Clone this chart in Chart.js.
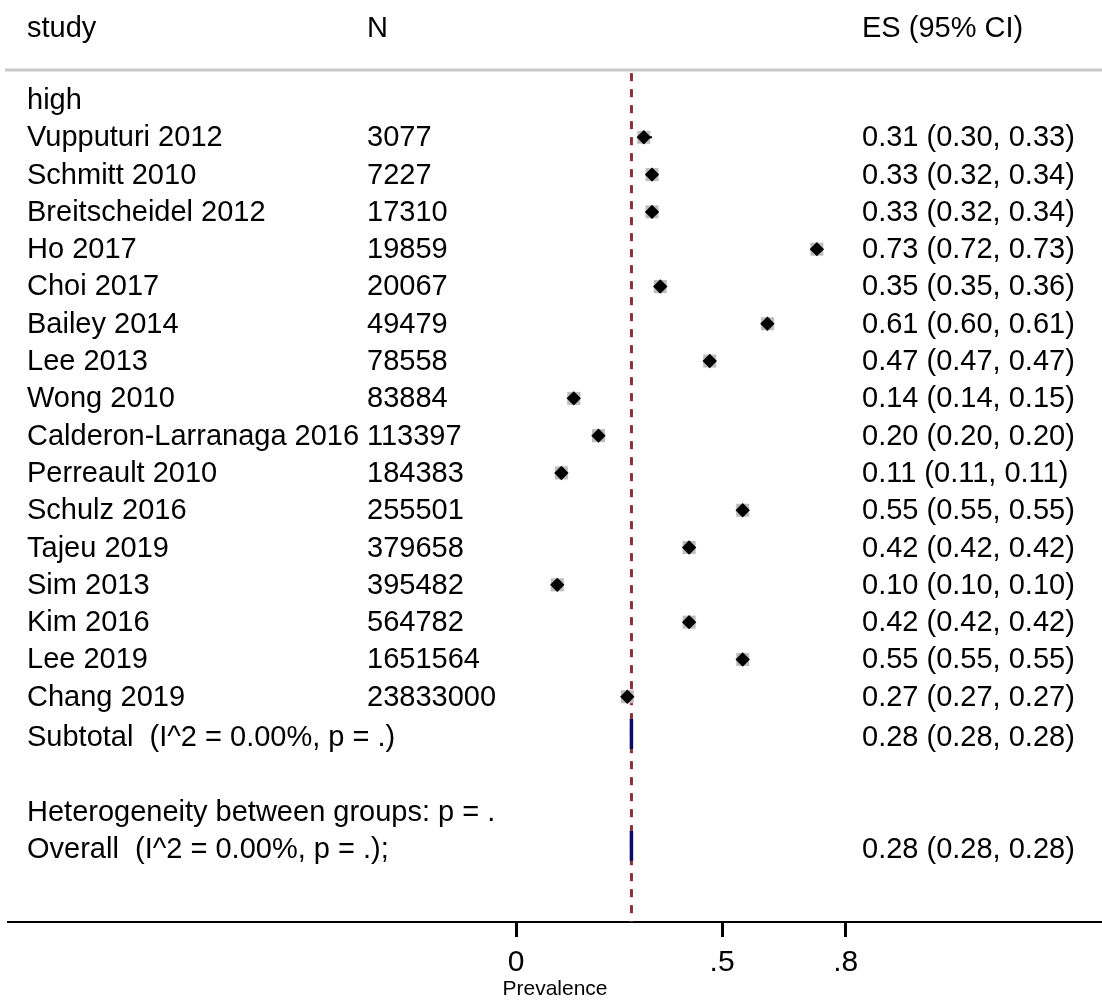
<!DOCTYPE html>
<html lang="en">
<head>
    <meta charset="UTF-8">
    <title>Forest plot - Prevalence</title>
    <style>
        body {
            margin: 0;
            padding: 0;
            background: #fff;
        }
        #chart {
            display: block;
        }
    </style>
</head>
<body>
    <canvas id="chart" width="1102" height="1001"></canvas>

    <script src="https://cdn.jsdelivr.net/npm/chart.js"></script>
    <script>
        // data
        const groupLabel = 'high';
        const studies = ['Vupputuri 2012', 'Schmitt 2010', 'Breitscheidel 2012', 'Ho 2017', 'Choi 2017',
            'Bailey 2014', 'Lee 2013', 'Wong 2010', 'Calderon-Larranaga 2016', 'Perreault 2010',
            'Schulz 2016', 'Tajeu 2019', 'Sim 2013', 'Kim 2016', 'Lee 2019', 'Chang 2019'];
        const sampleN = [3077, 7227, 17310, 19859, 20067, 49479, 78558, 83884, 113397, 184383,
            255501, 379658, 395482, 564782, 1651564, 23833000];
        const es = [0.31, 0.33, 0.33, 0.73, 0.35, 0.61, 0.47, 0.14, 0.20, 0.11, 0.55, 0.42, 0.10, 0.42, 0.55, 0.27];
        const ciLow = [0.30, 0.32, 0.32, 0.72, 0.35, 0.60, 0.47, 0.14, 0.20, 0.11, 0.55, 0.42, 0.10, 0.42, 0.55, 0.27];
        const ciHigh = [0.33, 0.34, 0.34, 0.73, 0.36, 0.61, 0.47, 0.15, 0.20, 0.11, 0.55, 0.42, 0.10, 0.42, 0.55, 0.27];

        const subtotal = { label: 'Subtotal  (I^2 = 0.00%, p = .)', es: 0.28, lo: 0.28, hi: 0.28 };
        const overall = { label: 'Overall  (I^2 = 0.00%, p = .);', es: 0.28, lo: 0.28, hi: 0.28 };
        const heteroLabel = 'Heterogeneity between groups: p = .';

        const xTickValues = [0, 0.5, 0.8];
        const xTickLabels = ['0', '.5', '.8'];
        const headers = ['study', 'N', 'ES (95% CI)'];

        // row layout (row index on the y scale)
        const HEADER_ROW = -1.92;
        const GROUP_ROW = 0;
        const SUB_ROW = 17;
        const HET_ROW = 19;
        const OVR_ROW = 20;

        const FONT = '"Liberation Sans", Arial, sans-serif';
        const COL_STUDY = 27, COL_N = 367, COL_ES = 862;

        const fmt = v => v.toFixed(2);
        const esText = (e, l, h) => `${fmt(e)} (${fmt(l)}, ${fmt(h)})`;

        const points = es.map((v, i) => ({ x: v, y: i + 1 }));

        const forestPlugin = {
            id: 'forest',
            beforeDatasetsDraw(chart) {
                const { ctx, chartArea } = chart;
                ctx.save();
                ctx.strokeStyle = '#c8c8c8';
                ctx.lineWidth = 3;
                ctx.beginPath();
                ctx.moveTo(5, chartArea.top);
                ctx.lineTo(chartArea.right, chartArea.top);
                ctx.stroke();
                ctx.restore();
            },
            afterDatasetsDraw(chart) {
                const { ctx } = chart;
                const xs = chart.scales.x;
                const ys = chart.scales.y;
                ctx.save();

                // confidence intervals
                ctx.strokeStyle = '#000';
                ctx.lineWidth = 2;
                es.forEach((v, i) => {
                    const y = ys.getPixelForValue(i + 1);
                    ctx.beginPath();
                    ctx.moveTo(xs.getPixelForValue(ciLow[i]), y);
                    ctx.lineTo(xs.getPixelForValue(ciHigh[i]), y);
                    ctx.stroke();
                });

                // pooled diamonds
                [[subtotal, SUB_ROW], [overall, OVR_ROW]].forEach(([p, row]) => {
                    ctx.beginPath();
                    ctx.moveTo(xs.getPixelForValue(p.lo), ys.getPixelForValue(row));
                    ctx.lineTo(xs.getPixelForValue(p.es), ys.getPixelForValue(row - 0.4));
                    ctx.lineTo(xs.getPixelForValue(p.hi), ys.getPixelForValue(row));
                    ctx.lineTo(xs.getPixelForValue(p.es), ys.getPixelForValue(row + 0.4));
                    ctx.closePath();
                    ctx.fillStyle = '#0b0b6e';
                    ctx.strokeStyle = '#0b0b6e';
                    ctx.lineWidth = 3.5;
                    ctx.fill();
                    ctx.stroke();
                });

                // text columns
                ctx.fillStyle = '#000';
                ctx.font = '29px ' + FONT;
                ctx.textBaseline = 'middle';
                ctx.textAlign = 'left';
                const text = (t, x, row) => ctx.fillText(t, x, ys.getPixelForValue(row) + 1);

                text(headers[0], COL_STUDY, HEADER_ROW);
                text(headers[1], COL_N, HEADER_ROW);
                text(headers[2], COL_ES, HEADER_ROW);

                text(groupLabel, COL_STUDY, GROUP_ROW);
                studies.forEach((s, i) => {
                    text(s, COL_STUDY, i + 1);
                    text(String(sampleN[i]), COL_N, i + 1);
                    text(esText(es[i], ciLow[i], ciHigh[i]), COL_ES, i + 1);
                });
                text(subtotal.label, COL_STUDY, SUB_ROW + 0.08);
                text(esText(subtotal.es, subtotal.lo, subtotal.hi), COL_ES, SUB_ROW + 0.08);
                text(heteroLabel, COL_STUDY, HET_ROW + 0.08);
                text(overall.label, COL_STUDY, OVR_ROW + 0.08);
                text(esText(overall.es, overall.lo, overall.hi), COL_ES, OVR_ROW + 0.08);

                ctx.restore();
            }
        };

        new Chart(document.getElementById('chart'), {
            type: 'scatter',
            data: {
                datasets: [
                    {
                        // black diamonds (drawn on top)
                        data: points,
                        pointStyle: 'rectRot',
                        pointRadius: 7.2,
                        backgroundColor: '#000',
                        borderWidth: 0
                    },
                    {
                        // grey weight boxes
                        data: points,
                        pointStyle: 'rect',
                        pointRadius: 9.2,
                        backgroundColor: '#bdbdbd',
                        borderWidth: 0
                    },
                    {
                        // overall effect reference line
                        type: 'line',
                        data: [{ x: overall.es, y: -0.72 }, { x: overall.es, y: 22.04 }],
                        borderColor: '#8c2f3b',
                        borderWidth: 3,
                        borderDash: [8, 8],
                        pointRadius: 0,
                        fill: false
                    }
                ]
            },
            options: {
                responsive: false,
                animation: false,
                layout: {
                    autoPadding: false,
                    padding: { top: 70, left: 8, right: 0, bottom: 0 }
                },
                plugins: {
                    legend: { display: false },
                    tooltip: { enabled: false }
                },
                scales: {
                    x: {
                        type: 'linear',
                        min: -1.233,
                        max: 1.422,
                        afterBuildTicks(scale) {
                            scale.ticks = xTickValues.map(v => ({ value: v }));
                        },
                        afterFit(scale) {
                            scale.height = 79;
                        },
                        ticks: {
                            autoSkip: false,
                            maxRotation: 0,
                            padding: 11,
                            color: '#000',
                            font: { family: FONT, size: 30, lineHeight: 1 },
                            callback: v => xTickLabels[xTickValues.indexOf(v)]
                        },
                        grid: {
                            drawOnChartArea: false,
                            drawTicks: true,
                            tickLength: 15,
                            tickWidth: 3,
                            tickColor: '#000'
                        },
                        border: { display: true, color: '#000', width: 2 },
                        title: {
                            display: true,
                            text: 'Prevalence',
                            color: '#000',
                            font: { family: FONT, size: 21, lineHeight: 1 },
                            padding: { top: 0, bottom: 1 }
                        }
                    },
                    y: {
                        type: 'linear',
                        reverse: true,
                        min: -0.804,
                        max: 22.04,
                        display: false
                    }
                }
            },
            plugins: [forestPlugin]
        });
    </script>
</body>
</html>
